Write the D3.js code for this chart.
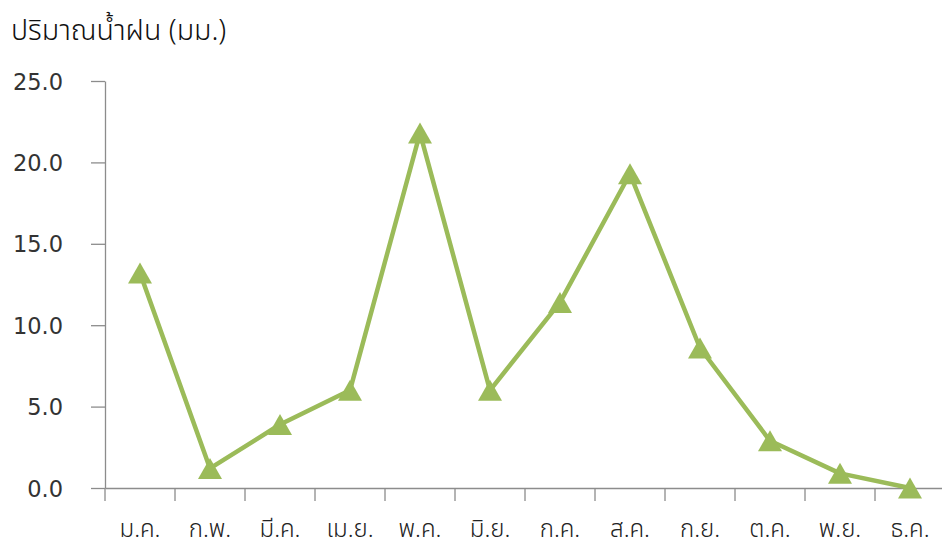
<!DOCTYPE html>
<html><head><meta charset="utf-8">
<script src="https://cdn.jsdelivr.net/npm/d3@7"></script>
<style>
html,body{margin:0;padding:0;background:#fff;}
svg text{font-family:"Noto Sans Thai","Noto Sans",sans-serif;fill:#404040;}
svg text.num{font-family:"DejaVu Sans",sans-serif;}
</style></head>
<body>
<svg id="c" width="942" height="549"></svg>
<script>
const months = ["ม.ค.","ก.พ.","มี.ค.","เม.ย.","พ.ค.","มิ.ย.","ก.ค.","ส.ค.","ก.ย.","ต.ค.","พ.ย.","ธ.ค."];
const rainfall = [13.2,1.2,3.9,6.0,21.8,6.0,11.4,19.3,8.6,2.9,0.9,0.0];
const yTicks = [0,5,10,15,20,25];
const title = "ปริมาณน้ำฝน (มม.)";

const svg = d3.select("#c");
const x = d3.scaleBand().domain(months).range([105,945]);
const y = d3.scaleLinear().domain([0,25]).range([488,81]);

svg.append("text").attr("x",11).attr("y",40).attr("font-size",28.5).attr("font-weight",300).style("fill","#111").text(title);

// y axis
const ya = svg.append("g").attr("transform","translate(105,0)")
  .call(d3.axisLeft(y).tickValues(yTicks).tickFormat(d3.format(".1f")).tickSize(14).tickSizeOuter(0));
ya.select(".domain").attr("stroke","#8c8c8c").attr("stroke-width",1.3);
ya.selectAll(".tick line").attr("stroke","#8c8c8c").attr("stroke-width",1.3);
ya.selectAll(".tick text").attr("class","num").attr("font-size",22.5).attr("x",-42).attr("dy","0.36em").style("fill","#333");

// x axis
const xa = svg.append("g").attr("transform","translate(0,488)")
  .call(d3.axisBottom(x).tickSize(0).tickSizeOuter(0));
xa.select(".domain").attr("stroke","#8c8c8c").attr("stroke-width",1.3);
xa.selectAll(".tick text").attr("font-size",24).attr("font-weight",300).attr("y",49).attr("dy","0").style("fill","#222");
const bounds = months.map(m => x(m)).concat([x(months[months.length-1])+x.bandwidth()]);
svg.append("g").selectAll("line").data(bounds).join("line")
  .attr("x1",d=>d).attr("x2",d=>d).attr("y1",488).attr("y2",501)
  .attr("stroke","#8c8c8c").attr("stroke-width",1.3);

const cx = d => x(d) + x.bandwidth()/2;
const data = months.map((m,i)=>({m, v: rainfall[i]}));
svg.append("path").datum(data)
  .attr("fill","none").attr("stroke","#9BBB59").attr("stroke-width",4.5).attr("stroke-linejoin","round")
  .attr("d", d3.line().x(d=>cx(d.m)).y(d=>y(d.v)));

const tri = "M0,-10.5 L12,10.5 L-12,10.5 Z";
svg.append("g").selectAll("path").data(data).join("path")
  .attr("transform", d=>`translate(${cx(d.m)},${y(d.v)})`)
  .attr("d", tri).attr("fill","#9BBB59");
</script>
</body></html>
